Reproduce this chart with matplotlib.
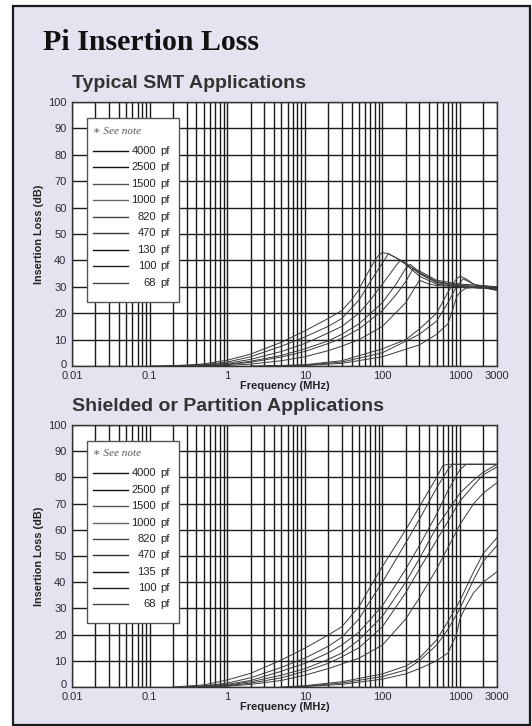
import matplotlib.pyplot as plt
from matplotlib.patches import Rectangle
from matplotlib.ticker import FixedLocator, NullFormatter
from matplotlib.transforms import ScaledTranslation

plt.rcParams.update({'font.family': 'Liberation Sans', 'axes.unicode_minus': False})

# ---- data ----
smt_caps = ['4000', '2500', '1500', '1000', '820', '470', '130', '100', '68']
smt_f = [
    [0.1, 0.3, 0.5, 1, 2, 5, 10, 20, 30, 40, 50, 60, 70, 80, 90, 100, 120, 150, 200, 300, 500, 1000, 2000, 3000],
    [0.15, 0.5, 1, 2, 5, 10, 20, 30, 50, 70, 100, 120, 150, 200, 300, 500, 1000, 2000, 3000],
    [0.2, 0.5, 1, 2, 5, 10, 20, 30, 50, 70, 100, 150, 170, 200, 300, 500, 1000, 2000, 3000],
    [0.25, 0.5, 1, 2, 5, 10, 20, 30, 50, 100, 150, 200, 230, 300, 500, 1000, 2000, 3000],
    [0.3, 0.6, 1, 2, 5, 10, 20, 30, 50, 100, 150, 200, 250, 300, 500, 1000, 2000, 3000],
    [0.4, 1, 2, 5, 10, 20, 30, 50, 100, 200, 300, 400, 500, 1000, 2000, 3000],
    [2, 5, 10, 30, 100, 200, 300, 500, 700, 900, 1000, 1200, 1500, 2000, 3000],
    [3, 10, 30, 100, 300, 500, 700, 900, 1100, 1500, 2000, 3000],
    [4, 10, 30, 100, 300, 500, 700, 800, 900, 1000, 1200, 2000, 3000],
]
smt_db = [
    [0, 0.3, 0.8, 2.2, 4.5, 9, 13.3, 18, 21, 25, 29, 33.5, 37, 40, 42, 43, 42.5, 41, 38.5, 34, 31, 30, 29.5, 29],
    [0, 0.5, 1.5, 3.5, 7.5, 11, 15, 18, 25, 32, 39, 42.5, 41, 39, 35, 31.5, 30.5, 30, 29.5],
    [0, 0.4, 1, 2.5, 5.5, 8.5, 12.5, 15, 20, 25, 31, 38, 40, 39, 35, 32, 30, 29.5, 29],
    [0, 0.2, 0.6, 1.8, 4, 6.5, 9.5, 12, 16, 24, 31, 37, 38.5, 35.5, 32, 30.5, 30, 30],
    [0, 0.2, 0.5, 1.4, 3.4, 5.5, 8.5, 10.5, 14, 21, 27, 32, 37, 36, 32.5, 31, 30.5, 30],
    [0, 0.2, 0.7, 2, 3.5, 5.8, 7.5, 10, 15, 24, 32.5, 31, 30.5, 30, 29.5, 29],
    [0, 0.2, 0.5, 2, 6.5, 10, 14, 20, 28, 33, 34, 33, 31, 30, 29],
    [0, 0.3, 1.5, 5, 12, 17, 24, 30, 33, 31, 30, 29.5],
    [0, 0.2, 1, 3.5, 8, 12, 16, 21, 26, 28, 29.5, 30, 28.5],
]

sh_caps = ['4000', '2500', '1500', '1000', '820', '470', '135', '100', '68']
sh_f = [
    [0.2, 0.5, 1, 2, 5, 10, 20, 30, 50, 70, 100, 200, 300, 500, 600, 700, 1000, 2000, 3000],
    [0.3, 0.5, 1, 2, 5, 10, 20, 30, 50, 70, 100, 200, 300, 500, 700, 800, 1000, 2000, 3000],
    [0.3, 1, 2, 5, 10, 20, 30, 50, 100, 200, 300, 500, 700, 1000, 1200, 2000, 3000],
    [0.4, 1, 2, 5, 10, 20, 30, 50, 100, 200, 300, 500, 1000, 1500, 2000, 3000],
    [0.5, 1, 2, 5, 10, 20, 30, 50, 100, 200, 300, 500, 1000, 1500, 2000, 3000],
    [0.6, 1, 2, 5, 10, 20, 50, 100, 200, 300, 500, 1000, 1500, 2000, 3000],
    [5, 10, 30, 100, 200, 300, 500, 700, 1000, 1500, 2000, 3000],
    [6, 10, 30, 100, 200, 300, 500, 700, 1000, 1500, 2000, 3000],
    [8, 10, 30, 100, 200, 300, 500, 700, 900, 1000, 1200, 1500, 2000, 3000],
]
sh_db = [
    [0, 0.8, 2.7, 5.2, 10.3, 14.8, 19.8, 23, 30.7, 38.3, 46, 60, 68.8, 80, 84.5, 85, 85, 85, 85],
    [0, 0.4, 1.5, 3.5, 7.5, 11, 15.5, 19, 26, 33, 40, 55, 64, 76, 83, 85, 85, 85, 85],
    [0, 1, 2.5, 6, 9, 13, 16, 21, 31, 45, 54, 66, 75, 83, 85, 85, 85],
    [0, 0.7, 2, 4.5, 7, 10.5, 13, 18, 27, 40, 49, 61, 74, 79, 82, 85],
    [0, 0.5, 1.5, 3.5, 6, 9, 11.5, 15, 23, 36, 45, 56, 71, 77, 81, 84],
    [0, 0.3, 1, 2.5, 4.5, 7, 11, 16, 26, 34, 45, 62, 70, 74, 78],
    [0, 0.5, 2, 5, 8, 11, 18, 25, 33, 44, 51, 57],
    [0, 0.3, 1.5, 4, 6.5, 10, 16, 22, 30, 41, 48, 54],
    [0, 0.2, 1, 3, 5, 7, 10, 13, 20, 26, 31, 36, 40, 44],
]

xticks = [0.01, 0.1, 1, 10, 100, 1000, 3000]
xticklabels = ['0.01', '0.1', '1', '10', '100', '1000', '3000']
yticks = list(range(0, 101, 10))

W, H = 532, 726
fig = plt.figure(figsize=(W / 100, H / 100), dpi=100)
fig.patch.set_facecolor('white')

# lavender panel with dark frame
fig.patches.append(Rectangle((13 / W, 1 - 725 / H), 517 / W, 719 / H, transform=fig.transFigure,
                             facecolor='#e4e4f0', edgecolor='#1a1a1a', lw=1.6, zorder=-5))

fig.text(43 / W, 1 - 42 / H, 'Pi Insertion Loss', family='Liberation Serif', weight='bold',
         size=21.5, va='center', ha='left', color='#111111')

line_cols = ['#111111', '#111111', '#555555', '#666666', '#444444', '#333333', '#111111', '#222222', '#444444']


def panel(ax, fs, dbs, caps, subtitle):
    ax.set_facecolor('white')
    for f, d in zip(fs, dbs):
        ax.plot(f, d, color='#3a3a3a', lw=0.7, zorder=3)
    ax.set_xscale('log')
    ax.set_xlim(0.01, 3000)
    ax.set_ylim(0, 100)
    ax.xaxis.set_major_locator(FixedLocator(xticks))
    ax.set_xticklabels(xticklabels)
    minors = [m * 10.0 ** e for e in range(-2, 4) for m in range(2, 10) if m * 10.0 ** e < 3000]
    ax.xaxis.set_minor_locator(FixedLocator(minors))
    ax.xaxis.set_minor_formatter(NullFormatter())
    ax.set_yticks(yticks)
    ax.grid(which='both', axis='x', color='#1a1a1a', lw=1.0, zorder=1)
    ax.grid(which='major', axis='y', color='#1a1a1a', lw=1.0, zorder=1)
    ax.tick_params(which='both', length=0, labelsize=8, labelcolor='#2a2a3a')
    ax.tick_params(axis='y', pad=4)
    ax.tick_params(axis='x', pad=3.5)
    # nudge the "0" label up a little so it clears "0.01"
    zero = ax.yaxis.get_major_ticks()[0].label1
    zero.set_transform(zero.get_transform() + ScaledTranslation(0, 2.5 / 100, fig.dpi_scale_trans))
    for s in ax.spines.values():
        s.set_color('#333333')
        s.set_linewidth(1.0)
    ax.set_xlabel('Frequency (MHz)', weight='bold', size=8, color='#222222', labelpad=0.3)
    ax.set_ylabel('Insertion Loss (dB)', weight='bold', size=7.8, color='#222222', labelpad=3)
    ax.text(0.0, 1.07, subtitle, transform=ax.transAxes, weight='bold', size=14,
            color='#333333', ha='left', va='center')

    # legend box
    ax.add_patch(Rectangle((0.035, 0.243), 0.217, 0.696, transform=ax.transAxes,
                           facecolor='white', edgecolor='#555555', lw=1.0, zorder=5))
    ax.text(0.05, 0.89, '\u2217 See note', transform=ax.transAxes,
            family=['Liberation Serif', 'DejaVu Serif'],
            style='italic', size=8, color='#555555', va='center', zorder=6)
    for i, c in enumerate(caps):
        yy = 0.815 - i * 0.0625
        ax.plot([0.05, 0.132], [yy, yy], transform=ax.transAxes, color=line_cols[i], lw=1.0, zorder=6)
        ax.text(0.198, yy, c, transform=ax.transAxes, ha='right', va='center', size=8,
                color='#222222', zorder=6)
        ax.text(0.207, yy, 'pf', transform=ax.transAxes, ha='left', va='center', size=8,
                color='#222222', zorder=6)


ax1 = fig.add_axes([72 / W, 1 - 366 / H, 425 / W, 264 / H])
panel(ax1, smt_f, smt_db, smt_caps, 'Typical SMT Applications')
ax2 = fig.add_axes([72 / W, 1 - 687 / H, 425 / W, 262 / H])
panel(ax2, sh_f, sh_db, sh_caps, 'Shielded or Partition Applications')

fig.savefig('out.png', dpi=100)
